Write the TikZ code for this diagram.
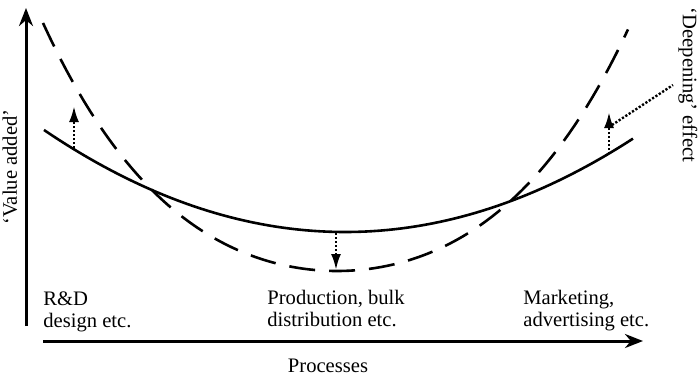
\documentclass[tikz,border=0pt]{standalone}
\usepackage{fontspec}
\setmainfont{Liberation Serif}
\usetikzlibrary{arrows.meta}

\begin{document}
\begin{tikzpicture}[x=0.5pt, y=-0.5pt]
  \tikzset{AxisStyle/.style = {
  line width = 1.5pt,
  -{Stealth[length=9pt, width=7pt]}},
  CurveStyle/.style = {line width = 1.3pt},
  DashStyle/.style = {line width = 1.3pt,
  dash pattern = on 13pt off 7pt},
  ShiftStyle/.style = {
  line width = 1.3pt,
  dash pattern = on 1.1pt off 0.9pt,
  -{Latex[length=8pt, width=5pt]}},
  LabelStyle/.style = {
  font = \fontsize{10.3}{11}\selectfont,
  inner sep = 0pt,
  align = left}}
  \useasboundingbox (0,0) rectangle (698,377);
  % axes
  \coordinate (yBot) at (26,326);
  \coordinate (yTop) at (26,8);
  \coordinate (xLeft) at (43,341);
  \coordinate (xRight) at (643,341);
  \draw[AxisStyle] (yBot) -- (yTop);
  \draw[AxisStyle] (xLeft) -- (xRight);
  % curves (u = distance from the bottom, in hundreds)
  \draw[CurveStyle] plot[domain=44:633, samples=80]
    (\x, {232-11.26*((\x-345)/100)^2});
  \draw[DashStyle] plot[domain=43:628, samples=100]
    (\x, {271-20.32*((\x-337)/100)^2-0.969*((\x-337)/100)^4});
  % shifts
  \coordinate (l0) at (74,148);
  \coordinate (l1) at (74,106);
  \coordinate (m0) at (336,233);
  \coordinate (m1) at (336,270);
  \coordinate (r0) at (609,154);
  \coordinate (r1) at (609,112);
  \draw[ShiftStyle] (l0) -- (l1);
  \draw[ShiftStyle] (m0) -- (m1);
  \draw[ShiftStyle] (r0) -- (r1);
  \coordinate (p0) at (612,125);
  \coordinate (p1) at (673,85);
  \draw[line width=1.2pt, dash pattern=on 1.1pt off 0.9pt] (p0) -- (p1);
  % labels
  \node[LabelStyle, anchor=north west] (rd) at (43,291) {R\&D\\design etc.};
  \node[LabelStyle, anchor=north west] (prod) at (267,290) {Production, bulk\\distribution etc.};
  \node[LabelStyle, anchor=north west] (mark) at (523,290) {Marketing,\\advertising etc.};
  \node[LabelStyle, anchor=base] (proc) at (328,372) {Processes};
  \node[LabelStyle, rotate=90] (value) at (10,167) {‘Value added’};
  \node[LabelStyle, rotate=-90] (deep) at (688,85) {‘Deepening’ effect};
\end{tikzpicture}
\end{document}
